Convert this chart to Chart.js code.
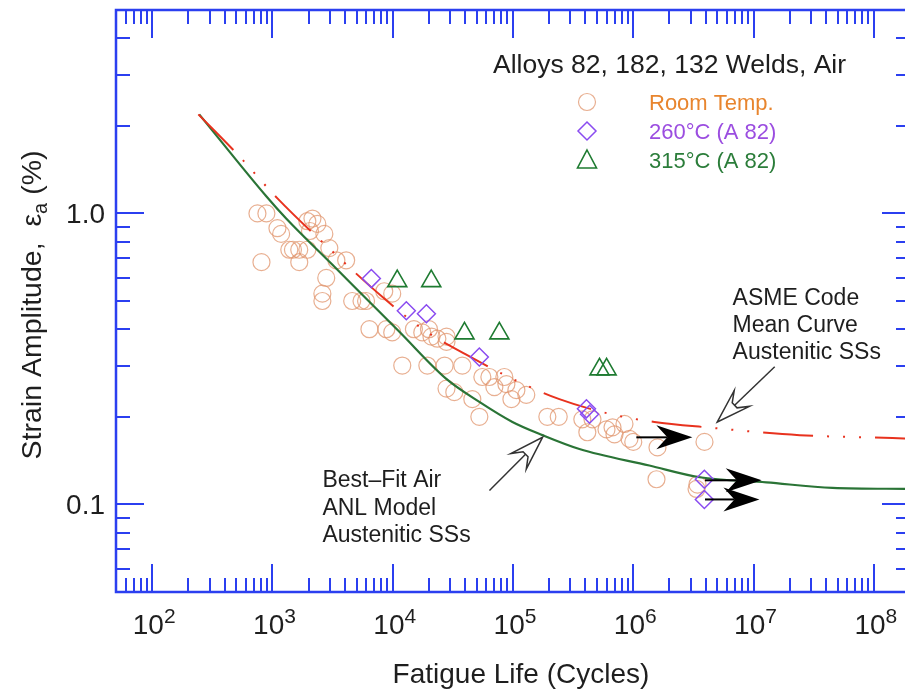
<!DOCTYPE html>
<html>
<head>
<meta charset="utf-8">
<script src="https://cdn.jsdelivr.net/npm/chart.js@4.4.0/dist/chart.umd.min.js"></script>
<style>
  html, body { margin:0; padding:0; background:#fff; overflow:hidden; }
  #wrap { position:relative; width:912px; height:692px; }
</style>
</head>
<body>
<div id="wrap"><canvas id="fatigue" width="912" height="692"></canvas></div>
<script>
'use strict';

// --- data: [fatigue life (cycles), strain amplitude (%)] ---
const roomTemp = [
  [750,1.0],[890,1.0],[810,0.68],[1100,0.89],[1180,0.85],
  [1380,0.75],[1480,0.75],[1670,0.75],[1670,0.68],[1950,0.75],
  [1950,0.94],[2150,0.96],[2360,0.92],[2050,0.87],[2700,0.85],
  [2970,0.76],[3400,0.69],[4100,0.69],[2800,0.60],[2600,0.53],[2600,0.50],
  [4600,0.50],[5500,0.50],[6000,0.50],[6400,0.40],[8850,0.40],[9900,0.39],
  [8500,0.54],[9900,0.53],[12000,0.30],
  [15000,0.40],[17600,0.39],[20000,0.40],[21000,0.377],[23500,0.371],[28000,0.377],[28000,0.362],
  [19400,0.30],[27000,0.30],[37900,0.30],
  [28000,0.25],[32500,0.243],[45900,0.23],
  [55600,0.274],[63600,0.274],[70000,0.253],[84700,0.274],[88100,0.259],[106700,0.247],[97000,0.23],[129000,0.238],
  [52500,0.20],[193000,0.20],[240000,0.20],
  [377000,0.196],[415000,0.177],[458000,0.196],[599000,0.181],[672000,0.184],[698000,0.174],
  [845000,0.189],[930000,0.168],[1.0e6,0.164],[1.59e6,0.157],[3.91e6,0.164],
  [1.56e6,0.122],[3.42e6,0.117],[3.36e6,0.113]
];
const a82At260 = [
  [6640,0.597],[12970,0.463],[19050,0.452],[52500,0.321],
  [408000,0.213],[433000,0.204],[3.9e6,0.122],[3.9e6,0.104]
];
const a82At315 = [
  [10900,0.585],[20900,0.585],[39500,0.387],[77000,0.387],[524000,0.291],[600000,0.291]
];
const anlBestFit = [
  [246,2.19],[888,1.145],[1300,0.96],[3140,0.667],[6030,0.509],[11350,0.392],
  [27900,0.270],[52500,0.225],[98900,0.192],[175700,0.173],[356600,0.155],
  [1.36e6,0.136],[3.56e6,0.124],[1.28e7,0.119],[4.54e7,0.114],[2.0e8,0.113]
];
const asmeMean = [
  [242,2.19],[509,1.60],[1100,1.126],[2970,0.757],[8180,0.517],[17630,0.401],
  [40900,0.327],[102800,0.268],[243000,0.230],[659000,0.204],[1.5e6,0.192],
  [4.06e6,0.184],[2.42e7,0.173],[1.43e8,0.169],[2.0e8,0.168]
];
// run-out arrows: [from N, to N, strain]
const runouts = [[1.06e6,3.1e6,0.170],[3.95e6,1.17e7,0.121],[3.95e6,1.12e7,0.104]];

const xTickExps = [2,3,4,5,6,7,8];
const yTickVals = [0.1, 1.0];
const yTickText = ['0.1', '1.0'];
const X_MIN = 50, X_MAX = 2e8, Y_MIN = 0.05, Y_MAX = 5;

const legendTitle = 'Alloys 82, 182, 132 Welds, Air';
const legendItems = ['Room Temp.', '260\u00b0C (A 82)', '315\u00b0C (A 82)'];
const asmeNote = ['ASME Code', 'Mean Curve', 'Austenitic SSs'];
const anlNote = ['Best\u2013Fit Air', 'ANL Model', 'Austenitic SSs'];

const FONT = '"Liberation Sans", Arial, Helvetica, sans-serif';
const AXIS = '#2b3ff0';
const TEXT = '#1e1e1e';
const CIRCLE = 'rgba(224,148,108,0.75)';
const PURPLE = '#8a4cf0';
const GREEN = '#1e7b31';
const RED = '#e8321e';
const CURVE_GREEN = '#2a7436';
const LEGEND_COLORS = ['#e8852e', '#9b4de0', '#2b7d3a'];

const toXY = pts => pts.map(([n, e]) => ({ x: n, y: e }));

function openArrow(ctx, xs, ys, xt, yt) {
  const dx = xt - xs, dy = yt - ys, len = Math.hypot(dx, dy);
  const ux = dx / len, uy = dy / len, nx = -uy, ny = ux;
  const L = 34, W = 11, N = 24, n = 3.5;
  const p = (a, b) => [xt - a * ux + b * nx, yt - a * uy + b * ny];
  const pts = [p(0, 0), p(L, W), p(N, n), p(N, -n), p(L, -W)];
  ctx.strokeStyle = '#333'; ctx.lineWidth = 1.5;
  ctx.beginPath();
  ctx.moveTo(xs, ys); ctx.lineTo(...p(N, 0)); ctx.stroke();
  ctx.beginPath();
  pts.forEach((q, i) => i ? ctx.lineTo(...q) : ctx.moveTo(...q));
  ctx.closePath();
  ctx.fillStyle = '#fff'; ctx.fill(); ctx.stroke();
}

function solidArrow(ctx, x0, x1, y) {
  ctx.strokeStyle = '#000'; ctx.lineWidth = 2;
  ctx.beginPath(); ctx.moveTo(x0, y); ctx.lineTo(x1 - 25, y); ctx.stroke();
  ctx.fillStyle = '#000';
  ctx.beginPath();
  ctx.moveTo(x1, y); ctx.lineTo(x1 - 36, y - 12); ctx.lineTo(x1 - 25, y);
  ctx.lineTo(x1 - 36, y + 12); ctx.closePath(); ctx.fill();
}

function marker(ctx, kind, cx, cy) {
  ctx.beginPath();
  if (kind === 0) {
    ctx.strokeStyle = CIRCLE; ctx.lineWidth = 1.2;
    ctx.arc(cx, cy, 8.5, 0, Math.PI * 2);
  } else if (kind === 1) {
    ctx.strokeStyle = PURPLE; ctx.lineWidth = 1.5;
    ctx.moveTo(cx, cy - 9); ctx.lineTo(cx + 9, cy); ctx.lineTo(cx, cy + 9); ctx.lineTo(cx - 9, cy); ctx.closePath();
  } else {
    ctx.strokeStyle = GREEN; ctx.lineWidth = 1.6;
    ctx.moveTo(cx, cy - 10); ctx.lineTo(cx + 9.5, cy + 8); ctx.lineTo(cx - 9.5, cy + 8); ctx.closePath();
  }
  ctx.stroke();
}

const frame = {
  id: 'frame',
  afterDatasetsDraw(chart) {
    const { ctx, chartArea: a, scales: { x, y } } = chart;
    ctx.save();

    // run-outs and notes
    runouts.forEach(([n0, n1, e]) => solidArrow(ctx, x.getPixelForValue(n0), x.getPixelForValue(n1), y.getPixelForValue(e)));
    openArrow(ctx, x.getPixelForValue(1.5e7), y.getPixelForValue(0.297), x.getPixelForValue(5.0e6), y.getPixelForValue(0.192));
    openArrow(ctx, x.getPixelForValue(63700), y.getPixelForValue(0.1117), x.getPixelForValue(1.76e5), y.getPixelForValue(0.170));
    ctx.fillStyle = TEXT; ctx.font = `23px ${FONT}`; ctx.textAlign = 'left'; ctx.textBaseline = 'alphabetic';
    asmeNote.forEach((t, i) => ctx.fillText(t, x.getPixelForValue(6.7e6), y.getPixelForValue(0.485) + i * 27));
    anlNote.forEach((t, i) => ctx.fillText(t, x.getPixelForValue(2600), y.getPixelForValue(0.1145) + i * 27.5));

    // frame with inward ticks on all four sides
    ctx.strokeStyle = AXIS; ctx.lineWidth = 2.5;
    ctx.strokeRect(a.left, a.top, a.right - a.left, a.bottom - a.top);
    ctx.lineWidth = 2;
    ctx.beginPath();
    for (let k = 1; k <= 8; k++) for (let m = 1; m <= 9; m++) {
      const v = m * Math.pow(10, k);
      if (v < X_MIN || v > X_MAX) continue;
      const px = Math.round(x.getPixelForValue(v));
      const len = m === 1 ? 28 : 14;
      ctx.moveTo(px, a.bottom); ctx.lineTo(px, a.bottom - len);
      ctx.moveTo(px, a.top); ctx.lineTo(px, a.top + len);
    }
    for (let k = -2; k <= 0; k++) for (let m = 1; m <= 9; m++) {
      const v = m * Math.pow(10, k);
      if (v < Y_MIN - 1e-9 || v > Y_MAX + 1e-9) continue;
      const py = Math.round(y.getPixelForValue(v));
      const len = m === 1 ? 28 : 14;
      ctx.moveTo(a.left, py); ctx.lineTo(a.left + len, py);
      ctx.moveTo(a.right, py); ctx.lineTo(a.right - len, py);
    }
    ctx.stroke();

    // tick labels
    ctx.fillStyle = TEXT;
    ctx.textAlign = 'right';
    ctx.font = `28px ${FONT}`;
    yTickVals.forEach((v, i) => ctx.fillText(yTickText[i], a.left - 11, y.getPixelForValue(v) + 10));
    ctx.textAlign = 'left';
    xTickExps.forEach(e => {
      const px = x.getPixelForValue(Math.pow(10, e));
      ctx.font = `28px ${FONT}`; const w1 = ctx.measureText('10').width;
      ctx.font = `21px ${FONT}`; const w2 = ctx.measureText(String(e)).width;
      const x0 = px - (w1 + w2) / 2 + 2;
      ctx.font = `28px ${FONT}`; ctx.fillText('10', x0, a.bottom + 42);
      ctx.font = `21px ${FONT}`; ctx.fillText(String(e), x0 + w1, a.bottom + 31);
    });

    // axis titles
    ctx.font = `28px ${FONT}`; ctx.textAlign = 'center';
    ctx.fillText('Fatigue Life (Cycles)', 521, 683);
    ctx.save();
    ctx.translate(41, 305); ctx.rotate(-Math.PI / 2);
    ctx.textAlign = 'left';
    const p1 = 'Strain Amplitude,  \u03b5', p2 = 'a', p3 = ' (%)';
    ctx.font = `28.5px ${FONT}`; const w1 = ctx.measureText(p1).width, w3 = ctx.measureText(p3).width;
    ctx.font = `20px ${FONT}`; const w2 = ctx.measureText(p2).width;
    let tx = -(w1 + w2 + w3) / 2;
    ctx.font = `28.5px ${FONT}`; ctx.fillText(p1, tx, 0); tx += w1;
    ctx.font = `20px ${FONT}`; ctx.fillText(p2, tx, 6); tx += w2;
    ctx.font = `28.5px ${FONT}`; ctx.fillText(p3, tx, 0);
    ctx.restore();

    // legend
    ctx.textAlign = 'left';
    ctx.font = `26.5px ${FONT}`; ctx.fillStyle = TEXT;
    ctx.fillText(legendTitle, 493, 73);
    ctx.font = `22px ${FONT}`;
    legendItems.forEach((t, i) => {
      const cy = 102 + i * 29;
      marker(ctx, i, 587, cy);
      ctx.fillStyle = LEGEND_COLORS[i];
      ctx.fillText(t, 649, cy + 8);
    });
    ctx.restore();
  }
};

new Chart(document.getElementById('fatigue'), {
  type: 'scatter',
  data: {
    datasets: [
      { label: '315\u00b0C (A 82)', data: toXY(a82At315), pointStyle: 'triangle', pointRadius: 11,
        borderColor: GREEN, backgroundColor: 'rgba(0,0,0,0)', borderWidth: 1.6 },
      { label: '260\u00b0C (A 82)', data: toXY(a82At260), pointStyle: 'rectRot', pointRadius: 9,
        borderColor: PURPLE, backgroundColor: 'rgba(0,0,0,0)', borderWidth: 1.5 },
      { label: 'ASME Code Mean Curve', data: toXY(asmeMean), showLine: true, pointRadius: 0,
        borderColor: RED, borderWidth: 2, borderDash: [50, 14, 2, 14, 2, 14, 2, 14], cubicInterpolationMode: 'monotone' },
      { label: 'Best-Fit Air ANL Model', data: toXY(anlBestFit), showLine: true, pointRadius: 0,
        borderColor: CURVE_GREEN, borderWidth: 2.2, cubicInterpolationMode: 'monotone' },
      { label: 'Room Temp.', data: toXY(roomTemp), pointStyle: 'circle', pointRadius: 8.5,
        borderColor: CIRCLE, backgroundColor: 'rgba(0,0,0,0)', borderWidth: 1.2 }
    ]
  },
  options: {
    responsive: false,
    animation: false,
    events: [],
    layout: { autoPadding: false, padding: { top: 10, left: 0, right: 2, bottom: 0 } },
    plugins: { legend: { display: false }, tooltip: { enabled: false } },
    scales: {
      x: { type: 'logarithmic', min: X_MIN, max: X_MAX,
           ticks: { display: false }, grid: { display: false }, border: { display: false },
           afterFit: s => { s.height = 100; } },
      y: { type: 'logarithmic', min: Y_MIN, max: Y_MAX,
           ticks: { display: false }, grid: { display: false }, border: { display: false },
           afterFit: s => { s.width = 116; } }
    }
  },
  plugins: [frame]
});
</script>
</body>
</html>
